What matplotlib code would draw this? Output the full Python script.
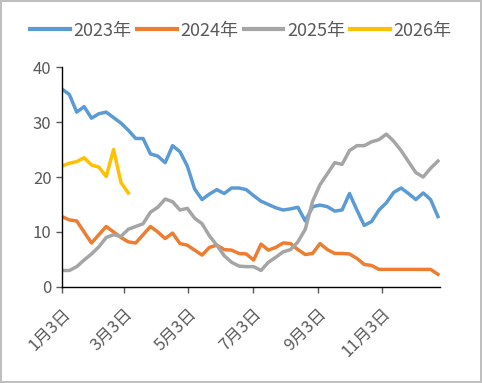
import numpy as np
import matplotlib
matplotlib.use('Agg')
import matplotlib.pyplot as plt

plt.rcParams['font.family'] = ['Noto Sans CJK SC', 'DejaVu Sans']

# weekly data, first point = Jan 3
s2023 = [36, 35, 31.8, 32.8, 30.7, 31.5, 31.8, 30.8, 29.8, 28.5, 27, 27, 24.2,
         23.8, 22.6, 25.7, 24.6, 22, 17.8, 15.9, 16.9, 17.7, 17, 18, 18, 17.7,
         16.6, 15.6, 15, 14.4, 14, 14.2, 14.5, 12, 14.6, 14.9, 14.6, 13.8, 14,
         17, 14, 11.2, 11.9, 14, 15.3, 17.2, 18, 17, 15.9, 17.1, 15.9, 12.8]
s2024 = [12.8, 12.2, 12, 10, 8, 9.5, 11, 10, 9, 8.2, 8, 9.5, 11,
         10, 8.8, 9.8, 7.9, 7.6, 6.7, 5.8, 7.2, 7.6, 6.8, 6.7, 6.1, 6,
         4.9, 7.8, 6.7, 7.2, 8, 7.9, 6.8, 5.9, 6.1, 7.9, 6.8, 6.1, 6.1,
         6, 5.2, 4.1, 3.9, 3.2, 3.2, 3.2, 3.2, 3.2, 3.2, 3.2, 3.2, 2.3]
s2025 = [3, 3, 3.7, 4.9, 6, 7.3, 9, 9.5, 9.2, 10.5, 11, 11.5, 13.6,
         14.5, 16, 15.5, 14, 14.3, 12.5, 11.5, 9.3, 7.6, 5.7, 4.5, 3.8, 3.7,
         3.7, 3, 4.5, 5.4, 6.4, 6.8, 8.2, 10.5, 15.6, 18.6, 20.6, 22.6, 22.3,
         24.8, 25.7, 25.7, 26.4, 26.8, 27.8, 26.5, 24.8, 22.8, 20.8, 20, 21.6, 22.9]
s2026 = [22, 22.5, 22.8, 23.5, 22.2, 21.8, 20.1, 25, 19, 17.1]

tick_days = [0, 59, 120, 181, 243, 304]
tick_labels = ['1月3日', '3月3日', '5月3日', '7月3日', '9月3日', '11月3日']

fig = plt.figure(figsize=(4.82, 3.83), dpi=100)
fig.patch.set_edgecolor('#bfbfbf')
fig.patch.set_linewidth(1.5)
ax = fig.add_axes([0.1286, 0.2507, 0.7844, 0.5743])

series = [('2023年', s2023, '#5B9BD5'), ('2024年', s2024, '#ED7D31'),
          ('2025年', s2025, '#A5A5A5'), ('2026年', s2026, '#FFC000')]
for name, vals, col in series:
    days = np.arange(len(vals)) * 7
    ax.plot(days, vals, color=col, lw=2.5, label=name, solid_joinstyle='round')

ax.set_xlim(0, 359)
ax.set_ylim(0, 40)
ax.set_yticks([0, 10, 20, 30, 40])
ax.set_xticks(tick_days)
ax.set_xticklabels(tick_labels, rotation=45, ha='right', rotation_mode='anchor')
ax.tick_params(axis='x', labelsize=12, colors='#595959', length=4, width=1, pad=9)
ax.tick_params(axis='y', labelsize=12, colors='#595959', length=4, width=1)
for lbl in ax.get_xticklabels():
    lbl.set_x(lbl.get_position()[0])
for t in ax.get_xticklines() + ax.get_yticklines():
    t.set_color('black')
for sp in ['top', 'right']:
    ax.spines[sp].set_visible(False)
for sp in ['left', 'bottom']:
    ax.spines[sp].set_color('black')
    ax.spines[sp].set_linewidth(1)

leg = fig.legend(loc='center', bbox_to_anchor=(0.5, 0.92), ncol=4, frameon=False,
                 fontsize=13, handlelength=2.2, handletextpad=0.2, columnspacing=0.3)
for txt in leg.get_texts():
    txt.set_color('#595959')
for ln in leg.get_lines():
    ln.set_linewidth(3)

fig.savefig('out.png', dpi=100)
